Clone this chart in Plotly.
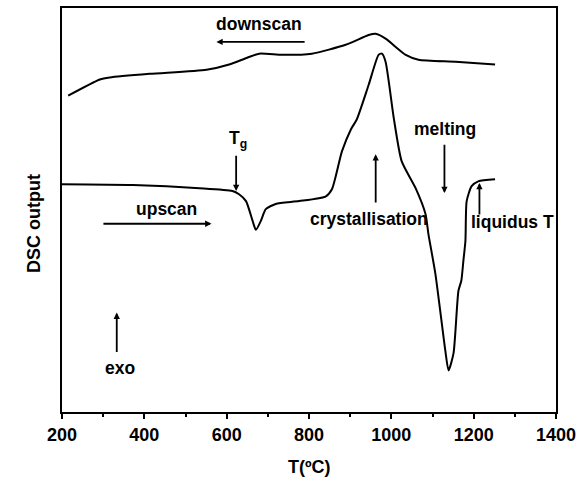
import plotly.graph_objects as go

# Downscan curve (upper)
down_T = [215, 292, 316, 413, 551, 606, 650, 679, 735, 807, 889, 945, 962, 986, 1035, 1066, 1156, 1252]
down_y = [78.3, 82.3, 82.8, 83.7, 84.7, 86.0, 87.7, 88.7, 88.4, 88.7, 90.9, 93.3, 93.6, 92.4, 88.4, 87.2, 86.7, 86.0]

# Upscan curve (lower)
up_T = [200, 372, 534, 614, 630, 647, 663, 671, 683, 695, 719, 776, 841, 856, 880, 902, 916, 945, 969, 977,
        986, 1006, 1025, 1059, 1083, 1090, 1107, 1131, 1139, 1151, 1163, 1170, 1175, 1180, 1183, 1195, 1211, 1252]
up_y = [56.4, 56.2, 55.4, 54.7, 53.9, 52.2, 47.3, 45.1, 47.3, 50.2, 51.5, 52.2, 53.4, 55.2, 64.5, 70.0, 72.4, 81.0, 88.4, 88.7,
        86.7, 72.7, 62.1, 55.4, 49.0, 44.1, 34.2, 15.3, 10.3, 14.5, 30.0, 32.5, 37.4, 42.4, 52.2, 55.9, 57.1, 57.6]

x_ticks = [200, 400, 600, 800, 1000, 1200, 1400]

FONT = "Liberation Sans, Arial, sans-serif"

fig = go.Figure()
fig.add_trace(go.Scatter(x=down_T, y=down_y, mode="lines",
                         line=dict(color="black", width=2, shape="spline", smoothing=0.6)))
fig.add_trace(go.Scatter(x=up_T, y=up_y, mode="lines",
                         line=dict(color="black", width=2, shape="spline", smoothing=0.6)))

# arrows: (head_x, head_y, tail_x, tail_y)
arrows = [
    (575, 91.6, 793, 91.6),   # downscan
    (563, 46.6, 297, 46.6),   # upscan
    (623, 54.7, 623, 63.8),   # Tg
    (962, 63.8, 962, 51.5),   # crystallisation
    (1129, 54.2, 1129, 66.5), # melting
    (1214, 56.7, 1214, 48.5), # liquidus
    (333, 24.6, 333, 14.5),   # exo
]
for hx, hy, tx, ty in arrows:
    fig.add_annotation(x=hx, y=hy, ax=tx, ay=ty, xref="x", yref="y", axref="x", ayref="y",
                       text="", showarrow=True, arrowhead=2, arrowsize=0.7, arrowwidth=1.8,
                       arrowcolor="black")

labels = [
    ("downscan", 679, 96.1),
    ("T<sub>g</sub>", 627, 67.5),
    ("upscan", 454, 50.2),
    ("crystallisation", 945, 47.8),
    ("melting", 1131, 70.0),
    ("liquidus T", 1294, 47.0),
    ("exo", 340, 10.8),
]
for txt, x, y in labels:
    fig.add_annotation(x=x, y=y, xref="x", yref="y", text="<b>" + txt + "</b>", showarrow=False,
                       font=dict(family=FONT, size=17.5, color="black"))

fig.add_annotation(x=-0.081, y=0.468, xref="paper", yref="paper", text="<b>DSC output</b>",
                   textangle=-90, showarrow=False, font=dict(family=FONT, size=18, color="black"))
fig.add_annotation(x=0.5, y=-0.165, xref="paper", yref="paper", text="<b>T(ºC)</b>",
                   showarrow=False, font=dict(family=FONT, size=18, color="black"))

fig.update_layout(
    width=582, height=492,
    margin=dict(l=62, r=24, t=6, b=80),
    paper_bgcolor="white", plot_bgcolor="white",
    showlegend=False,
    xaxis=dict(range=[200, 1400], tickvals=x_ticks, ticktext=["<b>%d</b>" % t for t in x_ticks],
               ticks="outside", ticklen=5, tickwidth=2, tickcolor="black",
               minor=dict(ticks="outside", ticklen=3, tickwidth=2, dtick=100, tickcolor="black"),
               showline=True, linewidth=2, linecolor="black", mirror=True, showgrid=False, zeroline=False,
               tickfont=dict(family=FONT, size=18, color="black")),
    yaxis=dict(range=[0, 100], showticklabels=False, ticks="", showline=True, linewidth=2,
               linecolor="black", mirror=True, showgrid=False, zeroline=False),
)

fig.write_html("out.html", config={"displayModeBar": False},
               post_script="document.body.style.margin='0';")
